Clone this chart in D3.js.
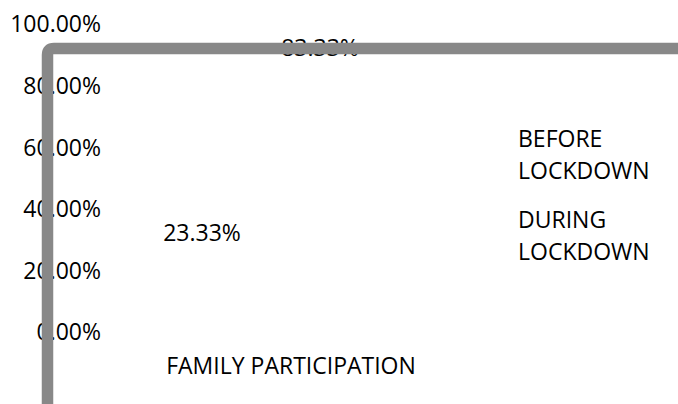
<!DOCTYPE html>
<html>
<head>
<meta charset="utf-8">
<script src="https://cdn.jsdelivr.net/npm/d3@7"></script>
<style>
  body { margin: 0; background: #fff; }
  text { font-family: "Open Sans", sans-serif; font-size: 23px; fill: #000; }
</style>
</head>
<body>
<script>
// Data
const categories = ["FAMILY PARTICIPATION"];
const seriesNames = ["BEFORE LOCKDOWN", "DURING LOCKDOWN"];
const beforeValues = [0.2333];
const duringValues = [0.8333];
const tickValues = [0, 0.2, 0.4, 0.6, 0.8, 1];

const width = 678;
const height = 404;

const svg = d3.select('body')
  .append('svg')
  .attr('width', width)
  .attr('height', height);

// Scales
const yScale = d3.scaleLinear()
  .domain([0, 1])
  .range([332.5, 24.5]);

const x0 = d3.scaleBand()
  .domain(categories)
  .range([60, 522]);

const x1 = d3.scaleBand()
  .domain(seriesNames)
  .range([83, 319]);

const fmt = d3.format('.2%');

// y axis (labels only)
const yAxis = d3.axisLeft(yScale)
  .tickValues(tickValues)
  .tickFormat(fmt)
  .tickSize(0)
  .tickPadding(0);

svg.append('g')
  .attr('class', 'axis y')
  .attr('transform', 'translate(101,0)')
  .call(yAxis)
  .call(g => g.select('.domain').remove())
  .call(g => g.selectAll('text')
    .attr('fill', '#000')
    .style('font-family', '"Open Sans", sans-serif')
    .style('font-size', '23px'));

// x axis (category label only)
const xAxis = d3.axisBottom(x0).tickSize(0).tickPadding(0);
svg.append('g')
  .attr('class', 'axis x')
  .attr('transform', 'translate(0,358)')
  .call(xAxis)
  .call(g => g.select('.domain').remove())
  .call(g => g.selectAll('text')
    .attr('fill', '#000')
    .attr('dy', '0.71em')
    .style('font-family', '"Open Sans", sans-serif')
    .style('font-size', '23px'));

// data rows
const rows = [];
categories.forEach((c, i) => {
  rows.push({cat: c, series: seriesNames[0], value: beforeValues[i]});
  rows.push({cat: c, series: seriesNames[1], value: duringValues[i]});
});

// bars (no fill, as in reference)
svg.append('g')
  .selectAll('rect')
  .data(rows)
  .join('rect')
  .attr('x', d => x0(d.cat) + x1(d.series))
  .attr('y', d => yScale(d.value))
  .attr('width', x1.bandwidth())
  .attr('height', d => yScale(0) - yScale(d.value))
  .attr('fill', 'none');

// value labels
svg.append('g')
  .selectAll('text')
  .data(rows)
  .join('text')
  .attr('x', d => x0(d.cat) + x1(d.series) + x1.bandwidth() / 2)
  .attr('y', d => yScale(d.value) - 28)
  .attr('dy', '0.35em')
  .attr('text-anchor', 'middle')
  .text(d => fmt(d.value));

// legend
const legend = svg.append('g').attr('transform', 'translate(518,0)');
seriesNames.forEach((name, i) => {
  const words = name.split(' ');
  const t = legend.append('text').attr('y', 147 + i * 81);
  words.forEach((w, j) => {
    t.append('tspan').attr('x', 0).attr('dy', j === 0 ? 0 : 32).text(w);
  });
});

// plot frame (drawn on top)
svg.append('path')
  .attr('d', 'M47.5,420 L47.5,55 Q47.5,48.5 54,48.5 L700,48.5')
  .attr('fill', 'none')
  .attr('stroke', '#888888')
  .attr('stroke-width', 11.5);
</script>
</body>
</html>
